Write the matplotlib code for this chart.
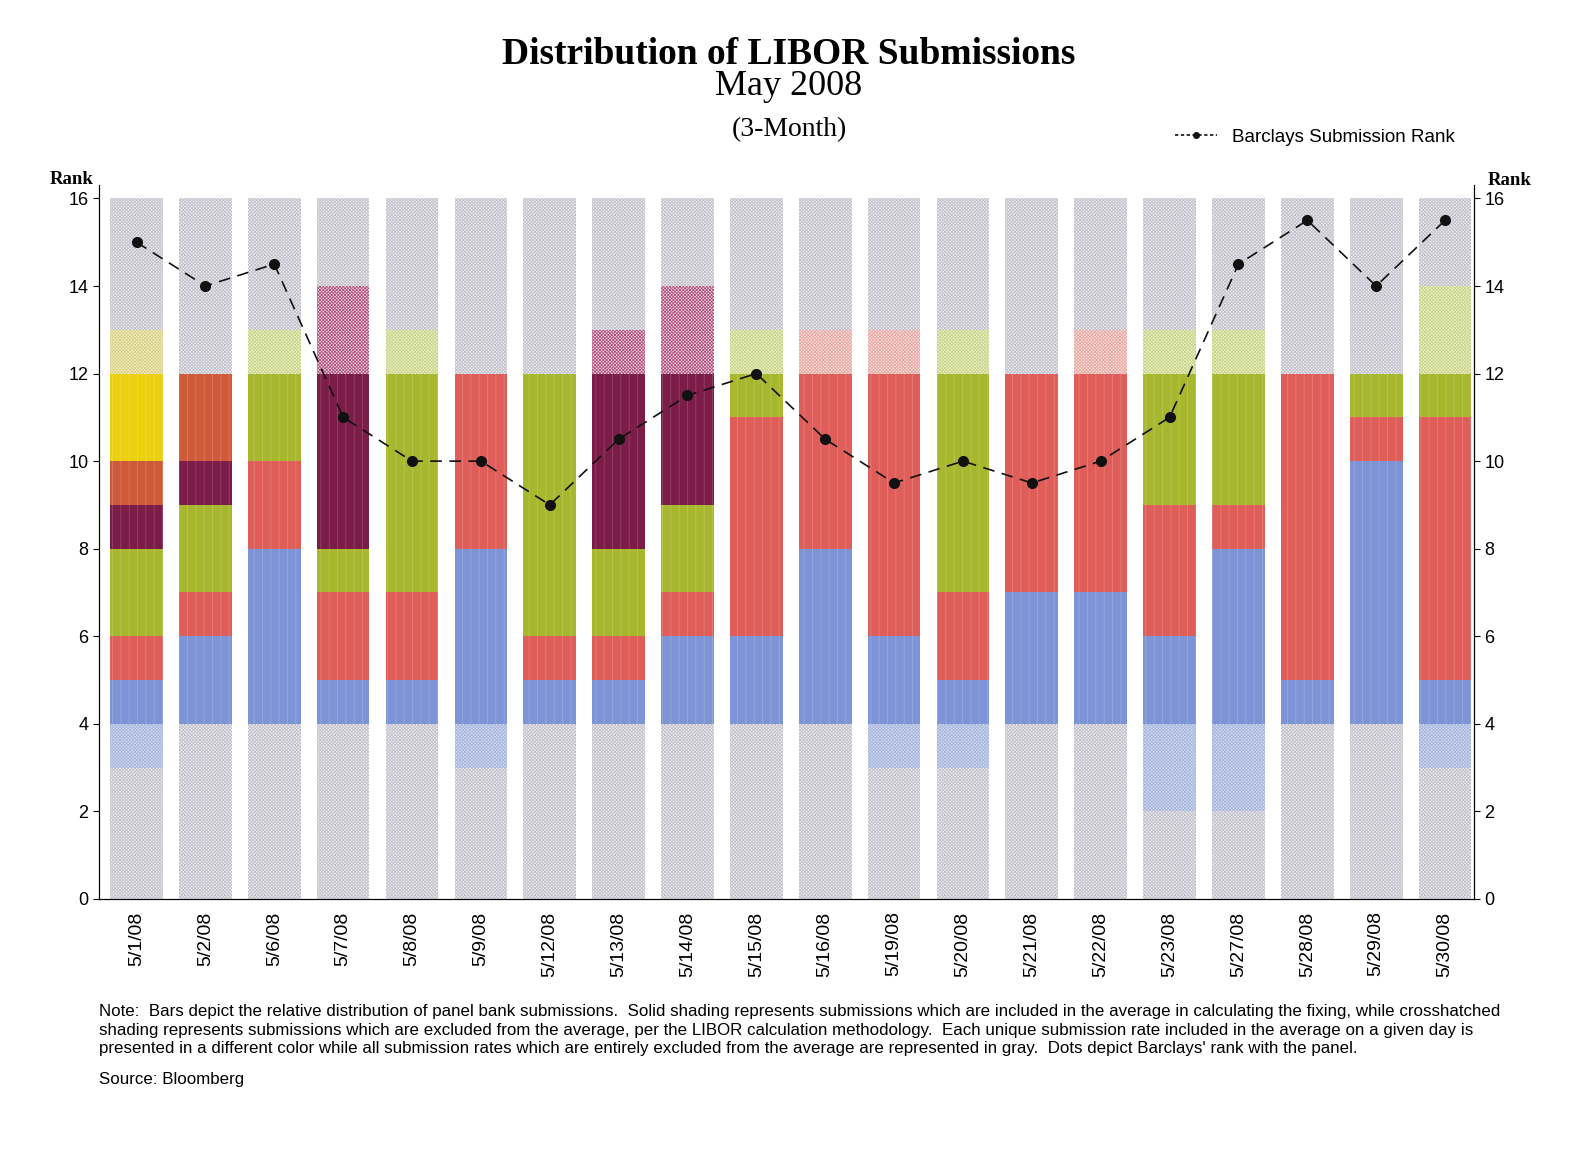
import matplotlib
matplotlib.use("Agg")
import matplotlib.pyplot as plt
from matplotlib.lines import Line2D

plt.rcParams['hatch.linewidth'] = 0.6

# Fechas y rango de Barclays
dates = ['5/1/08', '5/2/08', '5/6/08', '5/7/08', '5/8/08', '5/9/08', '5/12/08',
         '5/13/08', '5/14/08', '5/15/08', '5/16/08', '5/19/08', '5/20/08',
         '5/21/08', '5/22/08', '5/23/08', '5/27/08', '5/28/08', '5/29/08', '5/30/08']
barclays_rank = [15, 14, 14.5, 11, 10, 10, 9, 10.5, 11.5, 12,
                 10.5, 9.5, 10, 9.5, 10, 11, 14.5, 15.5, 14, 15.5]

# Segmentos apilados desde abajo: g=gris (excluido), b=azul, r=rojo,
# G=verde, P=morado, O=naranja, Y=amarillo. El resto hasta 16 es gris.
seg_colors = [
    ['g', 'b', 'r', 'G', 'P', 'O', 'Y'],
    ['g', 'b', 'r', 'G', 'P', 'O'],
    ['g', 'b', 'r', 'G'],
    ['g', 'b', 'r', 'G', 'P'],
    ['g', 'b', 'r', 'G'],
    ['g', 'b', 'r'],
    ['g', 'b', 'r', 'G'],
    ['g', 'b', 'r', 'G', 'P'],
    ['g', 'b', 'r', 'G', 'P'],
    ['g', 'b', 'r', 'G'],
    ['g', 'b', 'r'],
    ['g', 'b', 'r'],
    ['g', 'b', 'r', 'G'],
    ['g', 'b', 'r'],
    ['g', 'b', 'r'],
    ['g', 'b', 'r', 'G'],
    ['g', 'b', 'r', 'G'],
    ['g', 'b', 'r'],
    ['g', 'b', 'r', 'G'],
    ['g', 'b', 'r', 'G'],
]
seg_counts = [
    [3, 2, 1, 2, 1, 1, 3],
    [4, 2, 1, 2, 1, 2],
    [4, 4, 2, 3],
    [4, 1, 2, 1, 6],
    [4, 1, 2, 6],
    [3, 5, 4],
    [4, 1, 1, 6],
    [4, 1, 1, 2, 5],
    [4, 2, 1, 2, 5],
    [4, 2, 5, 2],
    [4, 4, 5],
    [3, 3, 7],
    [3, 2, 2, 6],
    [4, 3, 5],
    [4, 3, 6],
    [2, 4, 3, 4],
    [2, 6, 1, 4],
    [4, 1, 7],
    [4, 6, 1, 1],
    [3, 2, 6, 3],
]

solid = {'b': '#7d95d6', 'r': '#e05e5a', 'G': '#a7b82f', 'P': '#7c1c48',
         'O': '#cf5a3a', 'Y': '#ecd010'}
tint = {'g': '#f0eff4', 'b': '#d4ddf4', 'r': '#fbe2de', 'G': '#eef4c6',
        'P': '#f3dde9', 'O': '#f6d6c8', 'Y': '#f8f2c4'}
hatch_col = {'g': '#c2c1ca', 'b': '#a8b6dc', 'r': '#e8aaa4', 'G': '#c9d48e',
             'P': '#b0507e', 'O': '#d8a090', 'Y': '#d8d08a'}

fig = plt.figure(figsize=(15.94, 11.51), dpi=100)
ax = fig.add_axes([0.0619, 0.219, 0.8628, 0.62])
width = 0.765

for i in range(len(dates)):
    cols = seg_colors[i] + ['g']
    cnts = seg_counts[i] + [16 - sum(seg_counts[i])]
    base = 0
    for c, n in zip(cols, cnts):
        lo, hi = base, base + n
        base = hi
        for a, b, inc in [(0, 4, False), (4, 12, True), (12, 16, False)]:
            s, e = max(lo, a), min(hi, b)
            if e <= s:
                continue
            if inc and c != 'g':
                ax.bar(i, e - s, bottom=s, width=width, color=solid[c],
                       edgecolor=(1, 1, 1, 0.18), hatch='||', linewidth=0)
            else:
                ax.bar(i, e - s, bottom=s, width=width, color=tint[c],
                       edgecolor=hatch_col[c], hatch='xxxxxxxxxx', linewidth=0)

ax.plot(range(len(dates)), barclays_rank, color='#111111', linestyle=(0, (7, 4.5)),
        linewidth=1.2, marker='o', markersize=7)

ax.set_xlim(-0.55, 19.42)
ax.set_ylim(0, 16.3)
ax.set_yticks(range(0, 17, 2))
ax.set_xticks(range(len(dates)))
ax.set_xticklabels(dates, rotation=90, fontsize=14, family='Liberation Sans')
ax.tick_params(axis='x', length=0, pad=9)
ax.tick_params(axis='y', labelsize=13, direction='out', length=4)
for lbl in ax.get_yticklabels():
    lbl.set_family('Liberation Sans')
ax.spines['top'].set_visible(False)

ax2 = ax.twinx()
ax2.set_ylim(0, 16.3)
ax2.set_yticks(range(0, 17, 2))
ax2.tick_params(axis='y', labelsize=13, direction='out', length=4)
for lbl in ax2.get_yticklabels():
    lbl.set_family('Liberation Sans')
ax2.spines['top'].set_visible(False)

fig.text(0.495, 0.953, 'Distribution of LIBOR Submissions', ha='center', va='center',
         family='Liberation Serif', fontweight='bold', fontsize=27)
fig.text(0.495, 0.925, 'May 2008', ha='center', va='center',
         family='Liberation Serif', fontsize=26)
fig.text(0.495, 0.887, '(3-Month)', ha='center', va='center',
         family='Liberation Serif', fontsize=20)
fig.text(0.045, 0.844, 'Rank', ha='center', va='center', family='Liberation Serif',
         fontweight='bold', fontsize=13.5)
fig.text(0.947, 0.843, 'Rank', ha='center', va='center', family='Liberation Serif',
         fontweight='bold', fontsize=13.5)

handle = Line2D([], [], color='#111111', linestyle=(0, (2, 1.5)), linewidth=1.2,
                marker='o', markersize=4)
fig.legend([handle], ['Barclays Submission Rank'], loc='center',
           bbox_to_anchor=(0.825, 0.881), frameon=False, handlelength=2.2,
           prop={'family': 'Liberation Sans', 'size': 13.5})

note = ("Note:  Bars depict the relative distribution of panel bank submissions.  Solid shading "
        "represents submissions which are included in the average in calculating the fixing, while crosshatched\n"
        "shading represents submissions which are excluded from the average, per the LIBOR calculation "
        "methodology.  Each unique submission rate included in the average on a given day is\n"
        "presented in a different color while all submission rates which are entirely excluded from the "
        "average are represented in gray.  Dots depict Barclays' rank with the panel.")
fig.text(0.0619, 0.105, note, ha='left', va='center', family='Liberation Sans',
         fontsize=12.2, linespacing=1.3)
fig.text(0.0619, 0.062, 'Source: Bloomberg', ha='left', va='center',
         family='Liberation Sans', fontsize=12.2)

fig.savefig('out.png', dpi=100)
